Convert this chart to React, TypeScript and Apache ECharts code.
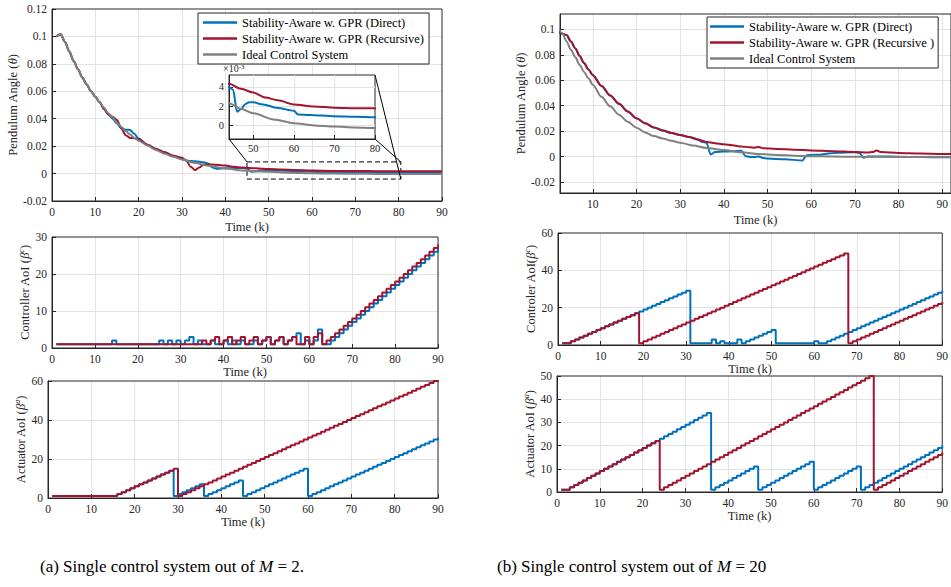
import React, { useEffect, useRef } from 'react';
import * as echarts from 'echarts';

const FONT = 'Liberation Serif';
const INK = '#262626';
const GRIDLINE = '#e3e3e3';
const BLUE = '#0072BD';
const RED = '#A2142F';
const GRAY = '#808080';

const NAME_DIRECT = 'Stability-Aware w. GPR (Direct)';
const NAME_REC_A = 'Stability-Aware w. GPR (Recursive)';
const NAME_REC_B = 'Stability-Aware w. GPR (Recursive )';
const NAME_IDEAL = 'Ideal Control System';

// time steps k = 1..90 for the AoI stair plots
const timeSteps: number[] = Array.from({ length: 90 }, (_, i) => i + 1);

// ---------- (a) M = 2 : pendulum angle ----------
const angleDirectA: [number, number][] = [
  [1, 0.1], [2, 0.1015], [3, 0.096], [4, 0.089], [5, 0.082], [6, 0.076], [7, 0.07], [8, 0.065], [9, 0.06], [10, 0.056],
  [11, 0.052], [12, 0.047], [13, 0.043], [14, 0.04], [15, 0.0365], [16, 0.033], [17, 0.032], [18, 0.0318], [19, 0.029], [20, 0.0255],
  [22, 0.021], [24, 0.018], [26, 0.0155], [28, 0.013], [30, 0.0105], [31, 0.0095], [33, 0.009], [35, 0.0082], [36, 0.0074], [37, 0.0045],
  [38, 0.0035], [40, 0.0038], [42, 0.004], [44, 0.004], [45, 0.0037], [46, 0.0014], [47, 0.0017], [48, 0.0022], [49, 0.0024], [50, 0.0024],
  [52, 0.0022], [56, 0.0018], [60, 0.0015], [61, 0.00112], [64, 0.00107], [70, 0.00093], [75, 0.00087], [80, 0.00083], [85, 0.00081], [90, 0.0008],
];
const angleRecursiveA: [number, number][] = [
  [1, 0.1], [2, 0.1015], [3, 0.096], [4, 0.089], [5, 0.082], [6, 0.076], [7, 0.07], [8, 0.065], [9, 0.06], [10, 0.056],
  [11, 0.052], [12, 0.047], [13, 0.043], [14, 0.0415], [15, 0.039], [16, 0.033], [17, 0.028], [18, 0.026], [19, 0.0258], [20, 0.025],
  [22, 0.021], [24, 0.018], [26, 0.0155], [28, 0.013], [30, 0.0115], [31, 0.0095], [32, 0.005], [33, 0.0025], [34, 0.0045], [35, 0.0066],
  [37, 0.0066], [40, 0.0058], [42, 0.005], [44, 0.00434], [47, 0.0038], [50, 0.00341], [53, 0.0029], [56, 0.0026], [60, 0.00217], [65, 0.00195],
  [70, 0.00183], [75, 0.00178], [80, 0.00176], [85, 0.00176], [90, 0.00176],
];
const angleIdealA: [number, number][] = [
  [1, 0.1], [2, 0.1015], [3, 0.096], [4, 0.089], [5, 0.082], [6, 0.076], [7, 0.07], [8, 0.065], [9, 0.06], [10, 0.056],
  [11, 0.052], [12, 0.048], [13, 0.044], [14, 0.041], [15, 0.037], [16, 0.034], [17, 0.031], [18, 0.0285], [19, 0.026], [20, 0.024],
  [22, 0.0205], [24, 0.0172], [26, 0.0145], [28, 0.0122], [30, 0.0102], [33, 0.0077], [36, 0.0057], [40, 0.0037], [44, 0.00228], [47, 0.0017],
  [50, 0.00124], [55, 0.0006], [60, 0.0002], [65, -0.00003], [70, -0.00014], [75, -0.00024], [80, -0.00031], [85, -0.00033], [90, -0.00034],
];

// zoom box drawn on the main (a) angle plot, and inset window
const zoomBoxA: [number, number][] = [[45, 0.0085], [80.5, -0.004]];
const insetRangeX: [number, number] = [44, 80];
const insetRangeY: [number, number] = [-1.45, 5.25]; // x 10^-3

// ---------- (a) M = 2 : AoI ----------
const ctrlDirectA = [
  1, 1, 1, 1, 1, 1, 1, 1, 1, 1, 1, 1, 1, 2, 1, 1, 1, 1, 1, 1, 1, 1, 1, 1,
  2, 1, 2, 1, 2, 1, 2, 3, 1, 2, 1, 1, 2, 1, 1, 2, 1, 2, 1, 2,
  1, 1, 2, 1, 2, 3, 1, 2, 3, 1, 2, 3, 4, 1, 2, 1, 2, 5, 1, 1,
  2, 3, 4, 5, 6, 7, 8, 9, 10, 11, 12, 13, 14, 15, 16, 17, 18, 19, 20, 21, 22, 23, 24, 25, 26, 27,
];
const ctrlRecursiveA = [
  1, 1, 1, 1, 1, 1, 1, 1, 1, 1, 1, 1, 1, 1, 1, 1, 1, 1, 1, 1, 1, 1, 1, 1, 1, 1, 1, 1, 1, 1, 1, 1, 1, 1,
  2, 1, 2, 3, 1, 2, 3, 1, 2, 3, 1, 2, 3, 1, 2, 3, 1, 2, 3, 1, 2, 3, 1, 1, 3, 1, 3, 4, 1,
  2, 3, 4, 5, 6, 7, 8, 9, 10, 11, 12, 13, 14, 15, 16, 17, 18, 19, 20, 21, 22, 23, 24, 25, 26, 27, 28,
];
const actDirectA = [
  1, 1, 1, 1, 1, 1, 1, 1, 1, 1, 1, 1, 1, 1, 1,
  2, 3, 4, 5, 6, 7, 8, 9, 10, 11, 12, 13, 14,
  1, 2, 3, 4, 5, 6, 7,
  1, 2, 3, 4, 5, 6, 7, 8, 9,
  1, 2, 3, 4, 5, 6, 7, 8, 9, 10, 11, 12, 13, 14, 15,
  1, 2, 3, 4, 5, 6, 7, 8, 9, 10, 11, 12, 13, 14, 15, 16, 17, 18, 19, 20, 21, 22, 23, 24, 25, 26, 27, 28, 29, 30, 31,
];
const actRecursiveA = [
  1, 1, 1, 1, 1, 1, 1, 1, 1, 1, 1, 1, 1, 1, 1,
  2, 3, 4, 5, 6, 7, 8, 9, 10, 11, 12, 13, 14, 15,
  1, 2, 3, 4, 5, 6, 7, 8, 9, 10, 11, 12, 13, 14, 15, 16, 17, 18, 19, 20, 21, 22, 23, 24, 25, 26, 27, 28, 29, 30,
  31, 32, 33, 34, 35, 36, 37, 38, 39, 40, 41, 42, 43, 44, 45, 46, 47, 48, 49, 50, 51, 52, 53, 54, 55, 56, 57, 58, 59, 60, 61,
];

// ---------- (b) M = 20 : pendulum angle ----------
const angleDirectB: [number, number][] = [
  [2, 0.0985], [3, 0.0965], [4, 0.0955], [5, 0.0905], [6, 0.085], [7, 0.079], [8, 0.0735], [9, 0.0685], [10, 0.064], [12, 0.0555],
  [14, 0.048], [16, 0.0415], [18, 0.0355], [20, 0.0301], [22, 0.0262], [24, 0.023], [26, 0.0205], [28, 0.0186], [30, 0.017], [32, 0.0155],
  [33, 0.0148], [34, 0.0135], [35, 0.0117], [36, 0.011], [37, 0.0018], [38, 0.0036], [40, 0.004], [42, 0.0042], [44, 0.0046], [45, 0.0004],
  [46, -0.0002], [47, -0.0003], [48, 0.0001], [49, -0.001], [50, -0.0014], [54, -0.0021], [58, -0.0029], [59, 0.0012], [60, 0.0014], [62, 0.0016],
  [64, 0.0026], [66, 0.003], [70, 0.0035], [71, 0.0031], [72, -0.0009], [73, 0.0002], [76, 0.0002], [80, 0.0], [85, -0.0003], [90, -0.0005], [92, -0.0005],
];
const angleRecursiveB: [number, number][] = [
  [2, 0.0985], [3, 0.0965], [4, 0.0955], [5, 0.0905], [6, 0.085], [7, 0.079], [8, 0.0735], [9, 0.0685], [10, 0.064], [12, 0.0555],
  [14, 0.048], [16, 0.0415], [18, 0.0355], [20, 0.0301], [22, 0.0262], [24, 0.023], [26, 0.0205], [28, 0.0186], [30, 0.017], [32, 0.0155],
  [34, 0.0135], [36, 0.0116], [38, 0.0106], [40, 0.0097], [42, 0.0089], [44, 0.008], [46, 0.0074], [47, 0.0071], [48, 0.0076], [49, 0.0066],
  [52, 0.0061], [56, 0.0055], [60, 0.0049], [65, 0.0043], [70, 0.0037], [73, 0.0033], [74, 0.0036], [75, 0.0049], [76, 0.0036], [80, 0.0029],
  [85, 0.0025], [90, 0.0022], [92, 0.0021],
];
const angleIdealB: [number, number][] = [
  [2, 0.102], [3, 0.097], [4, 0.0905], [5, 0.084], [6, 0.078], [7, 0.072], [8, 0.0665], [9, 0.0615], [10, 0.0565], [12, 0.047],
  [14, 0.0395], [16, 0.033], [18, 0.0275], [20, 0.0228], [22, 0.019], [24, 0.0162], [26, 0.0143], [28, 0.0125], [30, 0.011], [33, 0.0087],
  [36, 0.0069], [40, 0.0052], [44, 0.0034], [48, 0.0021], [52, 0.0014], [56, 0.0008], [60, 0.0004], [65, 0.0001], [70, 0.0], [80, -0.0002],
  [90, -0.0003], [92, -0.0003],
];

// ---------- (b) M = 20 : AoI ----------
const ctrlDirectB = [
  1, 1,
  2, 3, 4, 5, 6, 7, 8, 9, 10, 11, 12, 13, 14, 15, 16, 17,
  18, 19, 20, 21, 22, 23, 24, 25, 26, 27, 28, 29,
  1, 1, 1, 1, 1,
  3, 1, 2, 1, 1, 1, 3, 1,
  2, 3, 4, 5, 6, 7, 8,
  1, 1, 1, 1, 1, 1, 1, 1, 1,
  2,
  1, 1,
  2, 3, 4, 5, 6, 7, 8, 9, 10, 11, 12, 13, 14, 15, 16, 17, 18, 19, 20, 21, 22, 23, 24, 25, 26, 27, 28, 29,
];
const ctrlRecursiveB = [
  1, 1,
  2, 3, 4, 5, 6, 7, 8, 9, 10, 11, 12, 13, 14, 15, 16, 17,
  1, 2, 3, 4, 5, 6, 7, 8, 9, 10, 11, 12, 13, 14, 15, 16, 17, 18, 19, 20, 21, 22, 23, 24, 25,
  26, 27, 28, 29, 30, 31, 32, 33, 34, 35, 36, 37, 38, 39, 40, 41, 42, 43, 44, 45, 46, 47, 48, 49,
  1, 2, 3, 4, 5, 6, 7, 8, 9, 10, 11, 12, 13, 14, 15, 16, 17, 18, 19, 20, 21, 22, 23,
];
const actDirectB = [
  1, 1,
  2, 3, 4, 5, 6, 7, 8, 9, 10, 11, 12, 13, 14, 15, 16, 17, 18, 19, 20, 21, 22,
  23, 24, 25, 26, 27, 28, 29, 30, 31, 32, 33, 34,
  1, 2, 3, 4, 5, 6, 7, 8, 9, 10, 11,
  1, 2, 3, 4, 5, 6, 7, 8, 9, 10, 11, 12, 13,
  1, 2, 3, 4, 5, 6, 7, 8, 9, 10, 11,
  1, 2, 3, 4, 5, 6, 7, 8, 9, 10, 11, 12, 13, 14, 15, 16, 17, 18, 19, 20,
];
const actRecursiveB = [
  1, 1,
  2, 3, 4, 5, 6, 7, 8, 9, 10, 11, 12, 13, 14, 15, 16, 17, 18, 19, 20, 21, 22,
  1, 2, 3, 4, 5, 6, 7, 8, 9, 10, 11, 12, 13, 14, 15, 16, 17, 18, 19, 20, 21, 22, 23, 24, 25,
  26, 27, 28, 29, 30, 31, 32, 33, 34, 35, 36, 37, 38, 39, 40, 41, 42, 43, 44, 45, 46, 47, 48, 49, 50,
  1, 2, 3, 4, 5, 6, 7, 8, 9, 10, 11, 12, 13, 14, 15, 16, 17,
];

const CAPTION_A = '(a) Single control system out of {i|M} = 2.';
const CAPTION_B = '(b) Single control system out of {i|M} = 20';

const tickFont = { fontFamily: FONT, fontSize: 11.5, color: INK };
const nameFont = { fontFamily: FONT, fontSize: 12.5, color: INK };
const richName = {
  n: { fontFamily: FONT, fontSize: 12.5, color: INK, lineHeight: 16 },
  i: { fontFamily: FONT, fontSize: 12.5, color: INK, fontStyle: 'italic', lineHeight: 16 },
  s: { fontFamily: FONT, fontSize: 8, color: INK, fontStyle: 'italic', lineHeight: 9, verticalAlign: 'top' },
};

const fmt = (v: number) => String(parseFloat(v.toFixed(4)));

function xAxisOf(gridIndex: number, min: number, max: number, nameGap: number, opts: any = {}) {
  return {
    type: 'value', gridIndex, min, max,
    ...(opts.interval ? { interval: opts.interval } : {}),
    ...(opts.splitNumber ? { splitNumber: opts.splitNumber } : {}),
    name: opts.noName ? '' : 'Time (k)', nameLocation: 'middle', nameGap,
    nameTextStyle: nameFont,
    z: opts.z ?? 0,
    axisLine: { show: true, onZero: false, lineStyle: { color: INK, width: 1 } },
    axisTick: { show: true, inside: true, length: 4, lineStyle: { color: INK } },
    axisLabel: { ...tickFont, fontSize: opts.fontSize ?? 11.5, margin: opts.margin ?? 5, showMinLabel: opts.hideMin ? false : undefined, showMaxLabel: opts.hideMax ? false : undefined, formatter: fmt },
    splitLine: { show: true, showMinLine: false, showMaxLine: false, lineStyle: { color: GRIDLINE, width: 1 } },
  };
}

function yAxisOf(gridIndex: number, min: number, max: number, name: string, nameGap: number, opts: any = {}) {
  return {
    type: 'value', gridIndex, min, max,
    ...(opts.interval ? { interval: opts.interval } : {}),
    ...(opts.splitNumber ? { splitNumber: opts.splitNumber } : {}),
    name, nameLocation: 'middle', nameGap,
    nameTextStyle: { ...nameFont, rich: richName },
    z: opts.z ?? 0,
    axisLine: { show: true, onZero: false, lineStyle: { color: INK, width: 1 } },
    axisTick: { show: true, inside: true, length: 4, lineStyle: { color: INK } },
    axisLabel: { ...tickFont, fontSize: opts.fontSize ?? 11.5, margin: opts.margin ?? 5, showMinLabel: opts.hideMin ? false : undefined, showMaxLabel: opts.hideMax ? false : undefined, formatter: fmt },
    splitLine: { show: true, showMinLine: false, showMaxLine: false, lineStyle: { color: GRIDLINE, width: 1 } },
  };
}

function lineSeries(name: string, data: [number, number][], color: string, idx: number, extra: any = {}) {
  return {
    type: 'line', name, data, xAxisIndex: idx, yAxisIndex: idx,
    showSymbol: false, symbol: 'none', smooth: 0.3, smoothMonotone: 'x',
    lineStyle: { color, width: 2 }, itemStyle: { color },
    ...extra,
  };
}

function stairSeries(name: string, values: number[], color: string, idx: number) {
  return {
    type: 'line', name, step: 'end',
    data: timeSteps.map((k, i) => [k, values[i]]),
    xAxisIndex: idx, yAxisIndex: idx,
    showSymbol: false, symbol: 'none',
    lineStyle: { color, width: 2 }, itemStyle: { color },
  };
}

const scaleInset = (d: [number, number][]) => d.map(([k, v]) => [k, v * 1000] as [number, number]);

function buildOption(): any {
  const grid = (left: number, top: number, width: number, height: number, extra: any = {}) => ({
    left, top, width, height, show: true, borderColor: INK, borderWidth: 1, backgroundColor: 'transparent', z: 1, ...extra,
  });
  const legendBase = {
    orient: 'vertical', icon: 'rect',
    itemWidth: 34, itemHeight: 2.5, itemGap: 3,
    borderColor: INK, borderWidth: 1, backgroundColor: '#fff', borderRadius: 0,
    textStyle: { fontFamily: FONT, fontSize: 12.5, color: '#000', lineHeight: 13 },
    selectedMode: false, z: 8,
  };
  return {
    animation: false,
    backgroundColor: '#fff',
    grid: [
      grid(52, 9, 390, 192),
      grid(52, 237, 386, 111),
      grid(48, 381, 390, 117),
      grid(560, 14, 396, 179),
      grid(558, 233, 392, 112),
      grid(557, 376, 396, 116),
      grid(229, 75, 146, 64, { backgroundColor: '#fff', z: 6 }),
    ],
    xAxis: [
      xAxisOf(0, 0, 90, 19, { interval: 10 }),
      xAxisOf(1, 0, 90, 17, { interval: 10 }),
      xAxisOf(2, 0, 90, 17, { interval: 10 }),
      xAxisOf(3, 2.5, 92, 20, { splitNumber: 9, hideMin: true, hideMax: true }),
      xAxisOf(4, 0, 90, 16, { interval: 10 }),
      xAxisOf(5, 0, 90, 6, { interval: 10 }),
      xAxisOf(6, insetRangeX[0], insetRangeX[1], 0, { splitNumber: 4, hideMin: true, noName: true, z: 7, fontSize: 10.5, margin: 4 }),
    ],
    yAxis: [
      yAxisOf(0, -0.02, 0.12, '{n|Pendulum Angle (}{i|θ}{n|)}', 28, { interval: 0.02 }),
      yAxisOf(1, 0, 30, '{n|Controller AoI (}{i|β}{s|c}{n|)}', 14, { interval: 10 }),
      yAxisOf(2, 0, 60, '{n|Actuator AoI (}{i|β}{s|a}{n|)}', 13, { interval: 20 }),
      yAxisOf(3, -0.0285, 0.112, '{n|Pendulum Angle (}{i|θ}{n|)}', 31, { splitNumber: 7, hideMin: true, hideMax: true }),
      yAxisOf(4, 0, 60, '{n|Controler AoI(}{i|β}{s|c}{n|)}', 15, { interval: 20 }),
      yAxisOf(5, 0, 50, '{n|Actuator AoI (}{i|β}{s|a}{n|)}', 14, { interval: 10 }),
      yAxisOf(6, insetRangeY[0], insetRangeY[1], '', 0, { splitNumber: 3, hideMin: true, hideMax: true, z: 7, fontSize: 10.5, margin: 5 }),
    ],
    legend: [
      { ...legendBase, data: [NAME_DIRECT, NAME_REC_A, NAME_IDEAL], left: 198, top: 13, padding: [3, 5, 3, 5] },
      { ...legendBase, data: [NAME_DIRECT, NAME_REC_B, NAME_IDEAL], left: 707, top: 17, padding: [3, 4, 3, 3] },
    ],
    series: [
      lineSeries(NAME_DIRECT, angleDirectA, BLUE, 0),
      lineSeries(NAME_REC_A, angleRecursiveA, RED, 0),
      lineSeries(NAME_IDEAL, angleIdealA, GRAY, 0, {
        markArea: {
          silent: true,
          itemStyle: { color: 'rgba(0,0,0,0)', borderColor: '#000', borderWidth: 1, borderType: [5, 3] },
          data: [[{ coord: zoomBoxA[0] }, { coord: zoomBoxA[1] }]],
        },
      }),
      stairSeries(NAME_DIRECT, ctrlDirectA, BLUE, 1),
      stairSeries(NAME_REC_A, ctrlRecursiveA, RED, 1),
      stairSeries(NAME_DIRECT, actDirectA, BLUE, 2),
      stairSeries(NAME_REC_A, actRecursiveA, RED, 2),
      lineSeries(NAME_DIRECT, angleDirectB, BLUE, 3),
      lineSeries(NAME_REC_B, angleRecursiveB, RED, 3),
      lineSeries(NAME_IDEAL, angleIdealB, GRAY, 3),
      stairSeries(NAME_DIRECT, ctrlDirectB, BLUE, 4),
      stairSeries(NAME_REC_B, ctrlRecursiveB, RED, 4),
      stairSeries(NAME_DIRECT, actDirectB, BLUE, 5),
      stairSeries(NAME_REC_B, actRecursiveB, RED, 5),
      lineSeries(NAME_DIRECT, scaleInset(angleDirectA), BLUE, 6, { z: 8 }),
      lineSeries(NAME_REC_A, scaleInset(angleRecursiveA), RED, 6, { z: 8 }),
      lineSeries(NAME_IDEAL, scaleInset(angleIdealA), GRAY, 6, { z: 8 }),
    ],
  };
}

export default function App() {
  const ref = useRef<HTMLDivElement>(null);
  useEffect(() => {
    if (!ref.current) return;
    const chart = echarts.init(ref.current, null, { renderer: 'svg' });
    chart.setOption(buildOption());

    const px = (g: number, pt: [number, number]) => chart.convertToPixel({ gridIndex: g } as any, pt) as unknown as number[];
    const iTL = px(6, [insetRangeX[0], insetRangeY[1]]);
    const iTR = px(6, [insetRangeX[1], insetRangeY[1]]);
    const iBL = px(6, [insetRangeX[0], insetRangeY[0]]);
    const iBR = px(6, [insetRangeX[1], insetRangeY[0]]);
    const rTL = px(0, [zoomBoxA[0][0], zoomBoxA[0][1]]);
    const rTR = px(0, [zoomBoxA[1][0], zoomBoxA[0][1]]);
    const rBR = px(0, [zoomBoxA[1][0], zoomBoxA[1][1]]);
    const conn = (a: number[], b: number[]) => ({
      type: 'line', z: 5, silent: true,
      shape: { x1: a[0], y1: a[1], x2: b[0], y2: b[1] },
      style: { stroke: '#000', lineWidth: 1 },
    });
    const captionRich = { i: { fontFamily: FONT, fontSize: 17, fontStyle: 'italic', fill: '#000' } };
    chart.setOption({
      graphic: [
        conn(iBL, rTL),
        conn(iTR, rBR),
        conn(iBR, rTR),
        {
          type: 'text', x: iTL[0] - 6, y: iTL[1] - 12, z: 9, silent: true,
          style: { text: '×10{s|-3}', fontFamily: FONT, fontSize: 10, fill: INK, rich: { s: { fontFamily: FONT, fontSize: 7, fill: INK, verticalAlign: 'top' } } },
        },
        {
          type: 'text', x: 40, y: 566, silent: true,
          style: { text: CAPTION_A, fontFamily: FONT, fontSize: 17, fill: '#000', verticalAlign: 'middle', rich: captionRich },
        },
        {
          type: 'text', x: 497, y: 566, silent: true,
          style: { text: CAPTION_B, fontFamily: FONT, fontSize: 17, fill: '#000', verticalAlign: 'middle', rich: captionRich },
        },
      ],
    });
    return () => chart.dispose();
  }, []);
  return <div ref={ref} style={{ position: 'absolute', left: 0, top: 0, width: 951, height: 587 }} />;
}
